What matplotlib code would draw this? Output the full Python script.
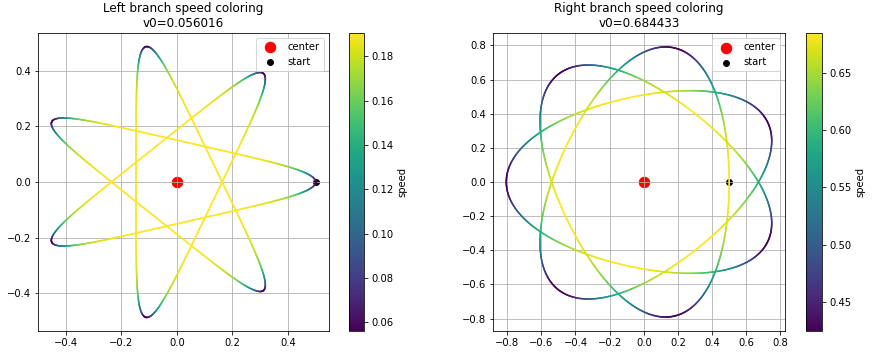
import numpy as np
import matplotlib
matplotlib.use('Agg')
import matplotlib.pyplot as plt
from matplotlib.collections import LineCollection
from matplotlib.colors import Normalize

# values
titles = ['Left branch speed coloring', 'Right branch speed coloring']
v0_values = [0.056016, 0.684433]
r_start = 0.5
r_other = [0.147, 0.805]      # other turning radius of each orbit
center = (0.0, 0.0)
petals = 7                    # turning points per closed orbit
windings = 3                  # apsis-to-apsis step is windings/petals of a half turn


def potential_setup(v0, rt, alpha):
    L = r_start * v0
    vt = L / rt
    k = alpha * (vt**2 - v0**2) / (2 * (r_start**alpha - rt**alpha))
    E = 0.5 * v0**2 + k * r_start**alpha / alpha
    return L, k, E


def half_period(v0, rt, alpha, n=4000):
    L, k, E = potential_setup(v0, rt, alpha)
    rp, ra = sorted([r_start, rt])
    u = (np.arange(n) + 0.5) * np.pi / n
    r = 0.5 * (ra + rp) - 0.5 * (ra - rp) * np.cos(u)
    f = 2 * (E - k * r**alpha / alpha) - L**2 / r**2
    f = np.maximum(f, 1e-30)
    dr = 0.5 * (ra - rp) * np.sin(u) * np.pi / n
    dtheta = np.sum(L * dr / (r**2 * np.sqrt(f)))
    dt = np.sum(dr / np.sqrt(f))
    return dtheta, dt


def fit_alpha(v0, rt):
    target = np.pi * windings / petals
    lo, hi = 2.0001, 60.0
    for _ in range(80):
        mid = 0.5 * (lo + hi)
        if half_period(v0, rt, mid)[0] > target:
            lo = mid
        else:
            hi = mid
    return 0.5 * (lo + hi)


def orbit(v0, rt, steps=40000, keep=20):
    alpha = fit_alpha(v0, rt)
    L, k, E = potential_setup(v0, rt, alpha)
    t_half = half_period(v0, rt, alpha)[1]
    dt = 2 * petals * t_half / steps

    def acc(x, y):
        r = (x * x + y * y) ** 0.5
        a = -k * r ** (alpha - 2)
        return a * x, a * y

    x, y, vx, vy = r_start, 0.0, 0.0, v0
    xs, ys, sp = [x], [y], [v0]
    for n in range(1, steps + 1):
        ax1, ay1 = acc(x, y)
        x2, y2 = x + 0.5 * dt * vx, y + 0.5 * dt * vy
        vx2, vy2 = vx + 0.5 * dt * ax1, vy + 0.5 * dt * ay1
        ax2, ay2 = acc(x2, y2)
        x3, y3 = x + 0.5 * dt * vx2, y + 0.5 * dt * vy2
        vx3, vy3 = vx + 0.5 * dt * ax2, vy + 0.5 * dt * ay2
        ax3, ay3 = acc(x3, y3)
        x4, y4 = x + dt * vx3, y + dt * vy3
        vx4, vy4 = vx + dt * ax3, vy + dt * ay3
        ax4, ay4 = acc(x4, y4)
        x += dt / 6 * (vx + 2 * vx2 + 2 * vx3 + vx4)
        y += dt / 6 * (vy + 2 * vy2 + 2 * vy3 + vy4)
        vx += dt / 6 * (ax1 + 2 * ax2 + 2 * ax3 + ax4)
        vy += dt / 6 * (ay1 + 2 * ay2 + 2 * ay3 + ay4)
        if n % keep == 0:
            xs.append(x)
            ys.append(y)
            sp.append((vx * vx + vy * vy) ** 0.5)
    return np.array(xs), np.array(ys), np.array(sp)


W, H = 872, 356
fig = plt.figure(figsize=(W / 72, H / 72), dpi=72)

ax_boxes = [(38, 33, 291, 298), (493, 33, 292, 298)]
cb_boxes = [(349, 33, 15, 298), (806, 33, 16, 298)]


def frac(b):
    x0, y0, w, h = b
    return [x0 / W, (H - y0 - h) / H, w / W, h / H]


for i in range(2):
    ax = fig.add_axes(frac(ax_boxes[i]))
    cax = fig.add_axes(frac(cb_boxes[i]))

    x, y, speed = orbit(v0_values[i], r_other[i])
    pts = np.column_stack([x, y]).reshape(-1, 1, 2)
    segs = np.concatenate([pts[:-1], pts[1:]], axis=1)
    lc = LineCollection(segs, cmap='viridis',
                        norm=Normalize(speed.min(), speed.max()))
    lc.set_array(0.5 * (speed[:-1] + speed[1:]))
    lc.set_linewidth(1.6)
    lc.set_capstyle('round')
    ax.add_collection(lc)

    ax.scatter([center[0]], [center[1]], s=110, color='red', label='center')
    ax.scatter([r_start], [0.0], s=35, color='black', label='start')
    ax.autoscale()
    ax.set_aspect('equal', adjustable='box')
    ax.grid(True)
    ax.legend(loc='upper right')
    ax.set_title(f'{titles[i]}\nv0={v0_values[i]:.6f}')

    fig.colorbar(lc, cax=cax, label='speed')

fig.savefig('out.png', dpi=72)
